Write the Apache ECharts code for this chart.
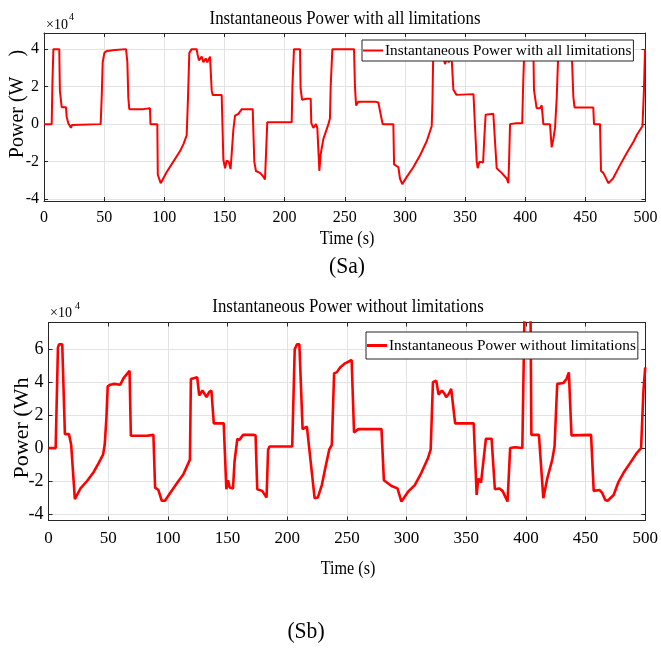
<!DOCTYPE html>
<html>
<head>
<meta charset="utf-8">
<script src="https://cdn.jsdelivr.net/npm/echarts@6/dist/echarts.min.js"></script>
<style>
html,body{margin:0;padding:0;background:#fff;}
#chart{width:661px;height:652px;}
</style>
</head>
<body>
<div id="chart"></div>
<script>
// ---------- data (power in units of 10^4 W) ----------
const nameA = 'Instantaneous Power with all limitations';
const nameB = 'Instantaneous Power without limitations';

const timeA = [0,6.4,7.0,7.8,12.7,13.2,14.7,18.3,18.8,20.2,21.5,22.4,23.2,47.1,48.0,48.8,50.2,52.1,59,60.4,68.2,69.3,70.1,70.9,82.6,84,88.1,88.5,94.2,94.6,95,97,98.5,102,107.5,113,116,118.6,119.7,120.8,122.7,126.9,127.7,128.8,131.1,132.5,134.4,135.8,138,139.4,140.2,147.7,149.1,150.5,151.8,153.5,155.1,156,157.4,158.8,161.6,164.4,173.5,174.8,176.2,179.6,182.3,183.7,184.3,185.6,205.9,206.5,207.8,212.8,213.3,214.5,218.3,221.7,222.2,223.9,226.1,227.2,228.9,230,232.2,236.4,237.7,238.3,239.7,257.7,258.5,259.4,261.3,275.1,277.9,281.5,290.4,291,294.6,295.9,297.8,301.7,307,312.7,318.2,322.3,322.9,323.6,327.5,328.5,329.8,332,333.3,335,336.5,338.8,340.3,342.9,357,358.2,359.7,360.5,362,365,366,367.1,373.5,376.3,380.4,384.6,386,386.6,387.4,392.5,397.5,398.4,399.3,406.8,407.3,409.5,412.3,413.7,415.1,420.6,422,423.4,424.8,426.2,427.6,438.6,440,441,456.6,457.2,462.2,463,464.9,466.5,469.1,473,478.7,484.3,489.9,493,497.5,498.7,499.6,500];
const powerA = [0,0,2.2,4,4,1.8,0.9,0.9,0.4,0.05,0,-0.2,-0.05,0,1.5,3.3,3.8,3.9,3.95,4,4,3.3,1.4,0.8,0.8,0.85,0.85,0,0,-2.7,-2.8,-3.15,-3.1,-2.55,-2.0,-1.45,-1.05,-0.6,1.4,3.8,4,4,3.7,3.4,3.6,3.3,3.5,3.3,3.6,1.8,1.55,1.55,-1.9,-2.35,-1.95,-2.0,-2.4,-1.6,-0.3,0.45,0.55,0.8,0.8,-2.0,-2.5,-2.6,-2.8,-2.95,-2.0,0.1,0.1,2.0,4,4,1.9,1.3,1.35,1.35,0.05,-0.2,0,-0.2,-2.5,-1.6,-0.8,0,0.3,2.0,4,4,2.0,1.0,1.2,1.2,1.15,0,0,-2.15,-2.3,-2.9,-3.2,-2.8,-2.3,-1.65,-0.9,-0.1,1.2,4,4,3.7,3.4,3.6,3.2,3.5,3.3,3.6,1.83,1.56,1.6,0,-2.0,-2.35,-2.0,-2.05,-0.75,0.5,0.55,-2.35,-2.6,-2.9,-3.15,-2.0,0,0.05,0.05,2.3,4,4,1.83,0.85,0.85,1.0,0,0,-1.24,-0.8,-0.2,1.4,4,4,1.47,0.89,0.89,0,0,-2.5,-2.6,-2.8,-3.15,-2.9,-2.2,-1.55,-0.95,-0.55,-0.1,1.8,4,4];

const timeB = [0,6,7.9,8.8,11.5,13.75,17.1,19,22.1,26.8,32.3,37.9,42.1,45.7,47.1,48.5,49.6,51.8,54.6,60.1,62.9,67.9,69,82.4,87.9,89.3,92.1,94.9,97.6,101.8,107.4,112.9,118.5,119.3,120.7,124.6,126.25,129,132.4,134.6,136.5,138.5,146.8,149,150.4,151.8,154.6,155.9,158.2,160.1,162.9,171.25,173.5,174.9,179,182.7,184,185.2,204.2,206.3,208.2,210.2,212.9,216.5,218,223,225.7,229,232.4,235.2,237.4,239.3,241.5,244.3,248.5,254,256,259.6,279,281,287.4,292.4,295.7,301.3,306.9,312.4,318,320.2,322.1,324.9,326.8,329.6,331.8,333.2,335.5,337.4,338.2,340.7,356.25,358.75,360.1,362.4,363.75,366.5,371.25,374,377.6,380.4,384.6,386.8,390.7,397,399,403.8,404.6,410.9,414.6,417.9,422.1,424,426.25,431.25,434,436,438.2,454.6,456.8,461.8,463.75,466.5,468.5,473.5,477.6,481.8,487.4,492.9,496.5,498.5,500];
const powerB = [0,0,6.1,6.3,6.3,0.85,0.85,0.2,-3.1,-2.45,-2.0,-1.45,-0.9,-0.4,0.2,1.8,3.75,3.85,3.9,3.85,4.25,4.7,0.75,0.75,0.8,-2.4,-2.55,-3.2,-3.2,-2.75,-2.15,-1.6,-0.7,4.2,4.3,4.3,3.2,3.5,3.1,3.4,3.5,1.5,1.5,-2.5,-1.95,-2.4,-2.45,-0.8,0.55,0.5,0.8,0.8,0.78,-2.5,-2.6,-3.0,-0.1,0.1,0.1,6.0,6.3,6.3,1.15,1.3,1.3,-3.05,-3.0,-2.25,-1.05,-0.1,0.2,4.55,4.6,4.9,5.15,5.35,0.95,1.15,1.15,-1.95,-2.3,-2.45,-3.25,-2.65,-2.25,-1.5,-0.6,-0.1,4.0,4.1,3.25,3.5,3.3,3.1,3.3,3.6,3.65,1.5,1.5,-2.85,-1.85,-2.1,-2.1,0.57,0.57,-2.5,-2.45,-2.6,-3.25,0,0.05,0,9.0,9.0,0.8,0.8,-3.05,-1.85,-0.7,0.1,3.9,3.95,4.2,4.6,0.77,0.8,-2.6,-2.55,-2.7,-3.15,-3.2,-2.85,-2.05,-1.5,-0.9,-0.3,0,3.5,4.9];

const xTicks = [0,50,100,150,200,250,300,350,400,450,500];
const yTicksA = [-4,-2,0,2,4];
const yTicksB = [-4,-2,0,2,4,6];

// ---------- chart ----------
const FONT = 'Liberation Serif';
const AX = '#262626';
const GRIDC = '#e3e3e3';
const chart = echarts.init(document.getElementById('chart'), null, {renderer:'canvas'});

function onlyTicks(list){
  return function(v){
    const r = Math.round(v*1000)/1000;
    return list.indexOf(r) >= 0 ? String(r) : '';
  };
}
function mainX(grid, lblSize, margin){
  return {gridIndex:grid, type:'value', min:0, max:500, interval:50, position:'bottom',
    axisLine:{show:true, onZero:false, lineStyle:{color:AX, width:1}},
    axisTick:{show:true, inside:true, length:4, lineStyle:{color:AX}},
    axisLabel:{color:'#000', fontFamily:FONT, fontSize:lblSize, margin:margin, formatter:onlyTicks(xTicks)},
    splitLine:{show:true, lineStyle:{color:GRIDC, width:1}}};
}
function topX(grid){
  return {gridIndex:grid, type:'value', min:0, max:500, interval:50, position:'top',
    axisLine:{show:true, onZero:false, lineStyle:{color:AX, width:1}},
    axisTick:{show:true, inside:true, length:4, lineStyle:{color:AX}},
    axisLabel:{show:false}, splitLine:{show:false}};
}
function mainY(grid, mn, mx, ticks, lblSize){
  return {gridIndex:grid, type:'value', min:mn, max:mx, position:'left',
    axisLine:{show:true, onZero:false, lineStyle:{color:AX, width:1}},
    axisTick:{show:true, inside:true, length:4, lineStyle:{color:AX}},
    axisLabel:{color:'#000', fontFamily:FONT, fontSize:lblSize, margin:5, formatter:onlyTicks(ticks)},
    splitLine:{show:true, lineStyle:{color:GRIDC, width:1}}};
}
function rightY(grid, mn, mx){
  return {gridIndex:grid, type:'value', min:mn, max:mx, position:'right',
    axisLine:{show:true, onZero:false, lineStyle:{color:AX, width:1}},
    axisTick:{show:true, inside:true, length:4, lineStyle:{color:AX}},
    axisLabel:{show:false}, splitLine:{show:false}};
}
function txt(text, x, y, size, opts){
  opts = opts || {};
  return {type:'text', x:x, y:y, rotation:opts.rot||0, scaleX:opts.sx||1, z:10,
    style:{text:text, fill:'#000', font:size+'px "'+FONT+'"',
      align:opts.align||'center', verticalAlign:'middle'}};
}

const option = {
  animation:false,
  backgroundColor:'#fff',
  grid:[
    {left:44, right:15.5, top:33, height:168, containLabel:false},
    {left:48.5, right:14, top:322.5, height:198, containLabel:false}
  ],
  xAxis:[mainX(0,16,9), topX(0), mainX(1,17,10), topX(1)],
  yAxis:[mainY(0,-4.1,4.86,yTicksA,16), rightY(0,-4.1,4.86), mainY(1,-4.4,7.63,yTicksB,18), rightY(1,-4.4,7.63)],
  legend:[
    {data:[nameA], left:362, top:40, icon:'rect', itemWidth:20, itemHeight:2,
     textStyle:{fontFamily:FONT, fontSize:15.3, color:'#000', padding:[0,0,0,-3]},
     backgroundColor:'#fff', borderColor:AX, borderWidth:1, padding:[3,2,3,1], borderRadius:0},
    {data:[nameB], left:366, top:332, icon:'rect', itemWidth:20, itemHeight:3,
     textStyle:{fontFamily:FONT, fontSize:15.3, color:'#000', padding:[0,0,0,-3]},
     backgroundColor:'#fff', borderColor:AX, borderWidth:1, padding:[6,2,6,1], borderRadius:0}
  ],
  series:[
    {name:nameA, type:'line', xAxisIndex:0, yAxisIndex:0, showSymbol:false, symbol:'none',
     data:timeA.map((t,i)=>[t, powerA[i]]), lineStyle:{color:'#ff0000', width:2}, itemStyle:{color:'#ff0000'}, clip:true, z:3},
    {name:nameB, type:'line', xAxisIndex:2, yAxisIndex:2, showSymbol:false, symbol:'none',
     data:timeB.map((t,i)=>[t, powerB[i]]), lineStyle:{color:'#ff0000', width:2.6}, itemStyle:{color:'#ff0000'}, clip:true, z:3}
  ],
  graphic:[
    txt('Instantaneous Power with all limitations', 345, 19, 19, {sx:0.885}),
    txt('Instantaneous Power without limitations', 348, 307, 19, {sx:0.885}),
    txt('\u00d710', 46, 25, 14, {align:'left'}),
    txt('4', 69, 17, 10, {align:'left'}),
    txt('\u00d710', 50, 313, 14, {align:'left'}),
    txt('4', 75, 306, 10, {align:'left'}),
    txt('Power (W    )', 18, 104, 20, {rot:Math.PI/2}),
    txt('Power (Wh', 22, 428, 22, {rot:Math.PI/2}),
    txt('Time (s)', 347, 239, 19, {sx:0.85}),
    txt('Time (s)', 348, 569, 19, {sx:0.85}),
    txt('(Sa)', 347, 267, 24, {sx:0.9}),
    txt('(Sb)', 306, 632, 24, {sx:0.9})
  ]
};
chart.setOption(option);
</script>
</body>
</html>
